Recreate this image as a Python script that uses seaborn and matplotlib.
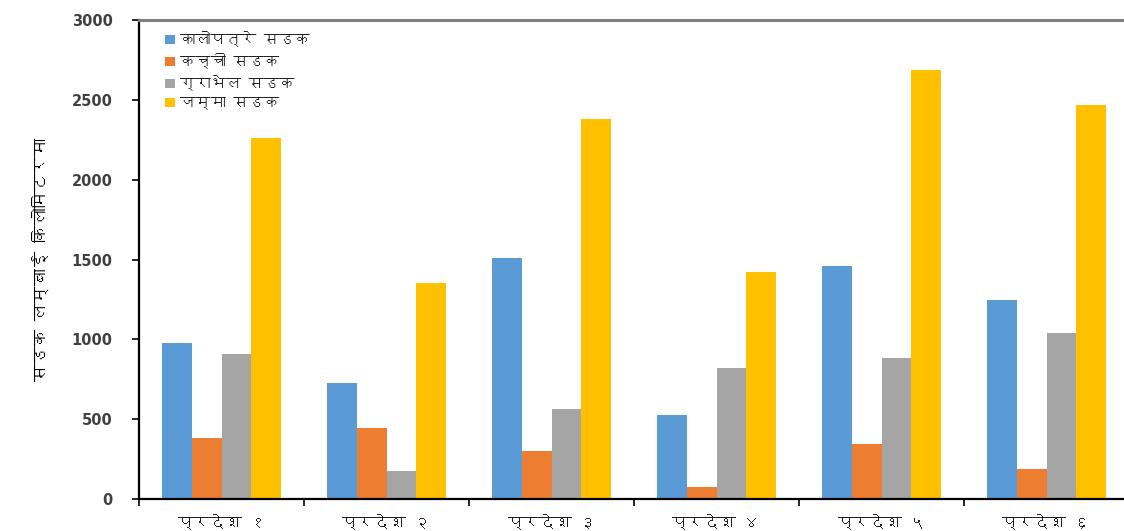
import numpy as np
import pandas as pd
import matplotlib
matplotlib.use("Agg")
import matplotlib.pyplot as plt
from matplotlib import font_manager
import seaborn as sns

provinces = ["प्रदेश १", "प्रदेश २", "प्रदेश ३", "प्रदेश ४", "प्रदेश ५", "प्रदेश ६"]
series_names = ["कालोपत्रे सडक", "कच्ची सडक", "ग्राभेल सडक", "जम्मा सडक"]
blacktop = [977, 728, 1509, 528, 1459, 1248]
earthen = [382, 445, 303, 78, 346, 188]
gravel = [906, 178, 566, 820, 880, 1040]
total = [2262, 1350, 2380, 1424, 2684, 2470]
y_label = "सडक लम्बाई किलोमिटरमा"
colors = ["#5B9BD5", "#ED7D31", "#A5A5A5", "#FFC000"]

sns.set_theme(style="white")

# find a font with Devanagari glyphs, if any
deva_family = None
try:
    from fontTools.ttLib import TTFont
    for f in font_manager.fontManager.ttflist:
        try:
            tt = TTFont(f.fname, fontNumber=0, lazy=True)
            cmap = tt.getBestCmap()
            if cmap and 0x0915 in cmap and 0x094D in cmap:
                deva_family = f.name
                break
        except Exception:
            continue
except Exception:
    pass
fams = ([deva_family] if deva_family else []) + ["DejaVu Sans"]
plt.rcParams["font.family"] = fams

df = pd.DataFrame({
    "province": np.repeat(provinces, len(series_names)),
    "type": series_names * len(provinces),
    "value": np.ravel(np.column_stack([blacktop, earthen, gravel, total])),
})

fig = plt.figure(figsize=(11.24, 5.31), dpi=100)
W, H = 1124, 531
ax = fig.add_axes([139 / W, (H - 499) / H, (1129 - 139) / W, (499 - 20) / H])

sns.barplot(data=df, x="province", y="value", hue="type", order=provinces,
            hue_order=series_names, palette=colors, width=0.72, gap=0,
            saturation=1, ax=ax, errorbar=None, linewidth=0)

ax.set_ylim(0, 3000)
ax.set_xlim(-0.5, len(provinces) - 0.5)
ax.set_yticks(range(0, 3001, 500))
ax.set_yticklabels([str(v) for v in range(0, 3001, 500)],
                   fontsize=10.5, fontweight="bold", color="#404040",
                   family="DejaVu Sans")
ax.tick_params(axis="y", direction="out", length=5, width=1.2, color="black",
               left=True, pad=14)
ax.set_xticks(range(len(provinces)))
ax.set_xticklabels(provinces, fontsize=11.5, color="#202020", family=fams)
ax.set_xticks(np.arange(-0.5, len(provinces), 1), minor=True)
ax.tick_params(axis="x", which="major", length=0, pad=11)
ax.tick_params(axis="x", which="minor", direction="out", length=5, width=1.2,
               color="black", bottom=True)

ax.set_xlabel("")
ax.set_ylabel(y_label, fontsize=12.5, fontweight="bold", color="black",
              family=fams, labelpad=16)

for s in ["left", "bottom"]:
    ax.spines[s].set_color("black")
    ax.spines[s].set_linewidth(1.6)
ax.spines["top"].set_color("#7f7f7f")
ax.spines["top"].set_linewidth(2.2)
ax.spines["right"].set_visible(False)

leg = ax.legend(loc="upper left", bbox_to_anchor=(0.015, 1.0), frameon=False,
                fontsize=11, handlelength=0.7, handleheight=0.5,
                handletextpad=0.3, labelspacing=0.4, borderaxespad=0.3)
for t in leg.get_texts():
    t.set_color("#202020")

fig.savefig("out.png", dpi=100)
